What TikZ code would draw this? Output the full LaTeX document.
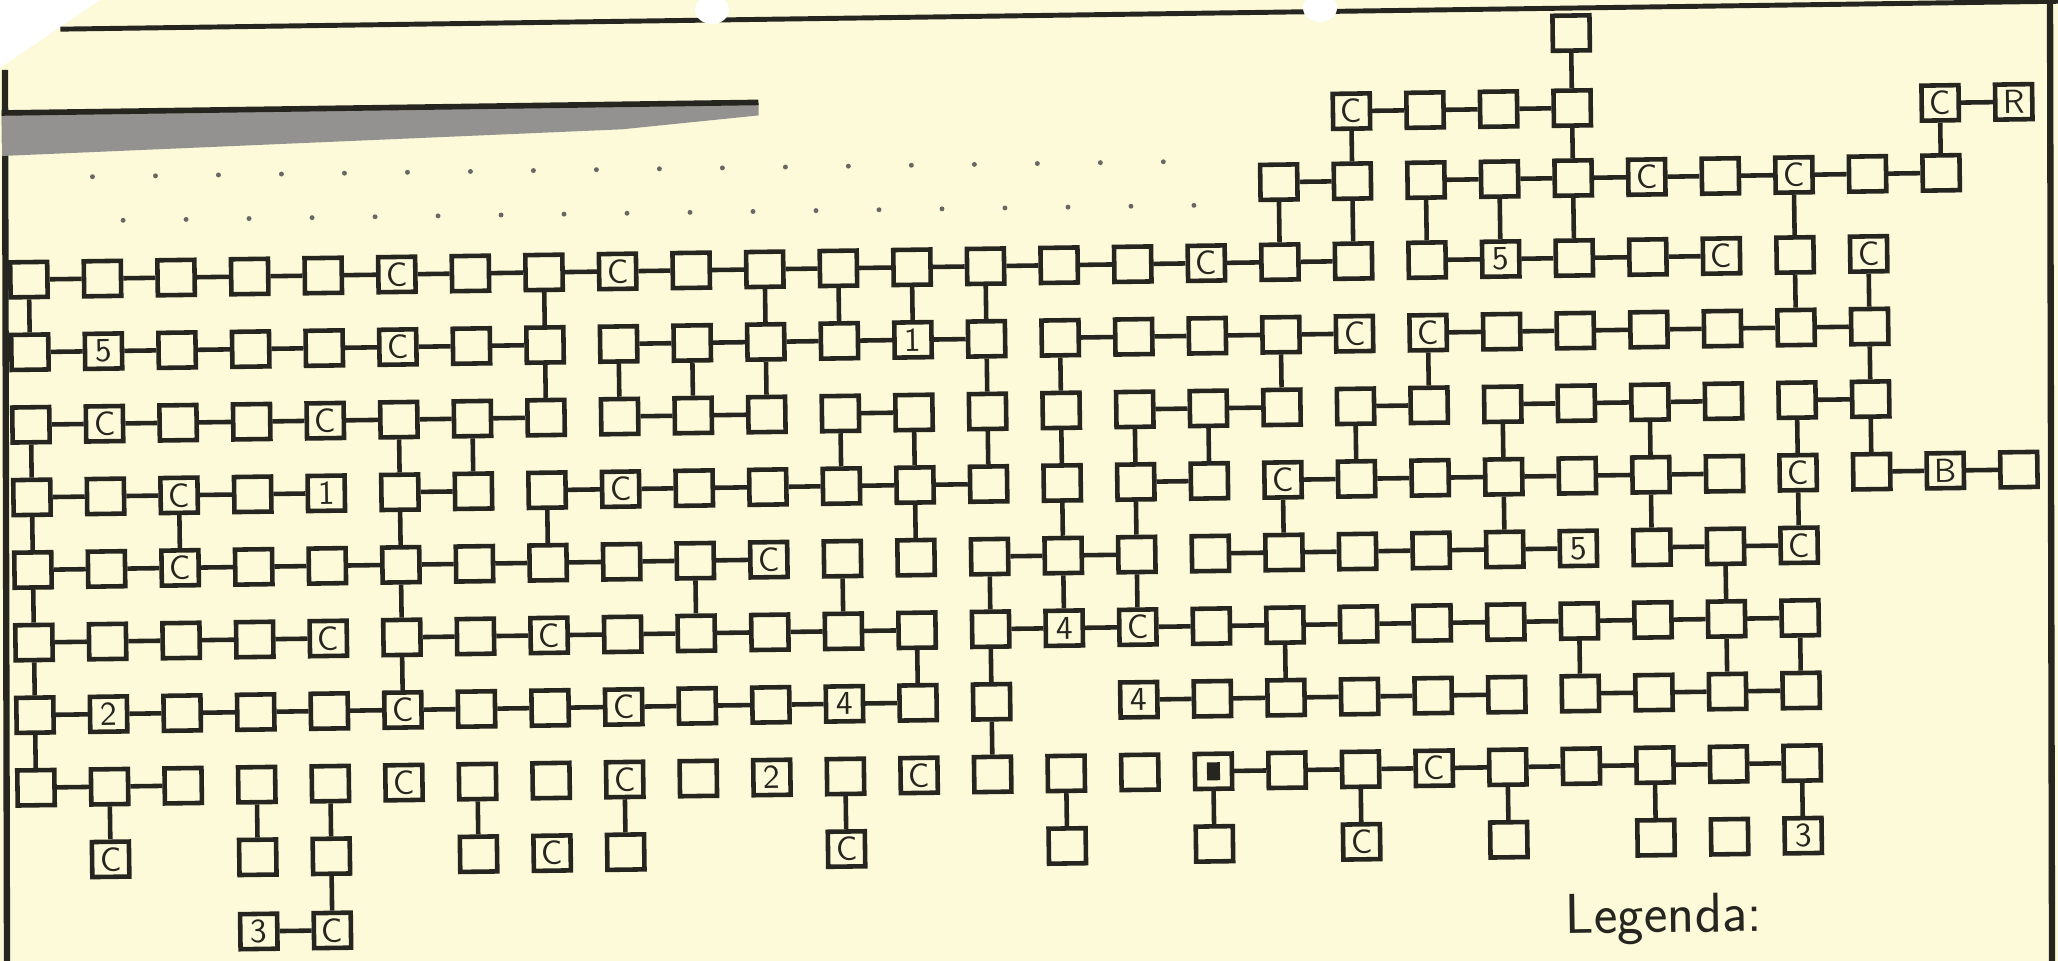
\documentclass[tikz,border=0pt]{standalone}
\usepackage{tikz}
\definecolor{paper}{RGB}{252,250,216}
\definecolor{ink}{RGB}{38,37,32}
\tikzset{
  cell/.style={draw=ink, line width=1.3pt, minimum width=0.37cm, minimum height=0.35cm,
    inner sep=0pt, text=ink, font=\sffamily\fontsize{9.5}{9.5}\selectfont, transform shape},
  link/.style={draw=ink, line width=1.3pt}
}
\newcommand{\kset}[3]{\expandafter\def\csname kl#1-#2\endcsname{#3}}
\newcommand{\kbox}[2]{%
  \pgfmathsetmacro\kx{25+73.6*#2}%
  \pgfmathsetmacro\ky{{55,130,200,280,352.6,425.2,497.8,570.4,643,715.6,788.2,860.8,935}[#1]}%
  \node[cell] (k#1-#2) at (\kx,\ky) {\csname kl#1-#2\endcsname};}
\newcommand{\krow}[3]{\foreach \kc in {#2,...,#3}{\kbox{#1}{\kc}}}
\newcommand{\khl}[3]{%
  \pgfmathtruncatemacro\kend{#3-1}%
  \foreach \kc in {#2,...,\kend}{%
    \pgfmathtruncatemacro\kn{\kc+1}%
    \draw[link] (k#1-\kc) -- (k#1-\kn);}}
\newcommand{\kvl}[2]{%
  \foreach \kr in {#2}{%
    \pgfmathtruncatemacro\kn{\kr+1}%
    \draw[link] (k\kr-#1) -- (k\kn-#1);}}

\begin{document}
\begin{tikzpicture}[x=0.01cm,y=-0.01cm]
  \useasboundingbox (0,0) rectangle (2058,961);
  \fill[paper] (0,0) rectangle (2058,961);
  \fill[white] (0,0) -- (100,0) -- (0,68) -- cycle;
  \draw[ink, line width=1.8pt] (5,70) -- (7,961);
  \draw[ink, line width=1.8pt] (2050,0) -- (2052,961);

  \begin{scope}[rotate=0.8]
  % sheet header
  \draw[ink, line width=1.4pt] (60,30) -- (2080,30);
  \fill[ink!50] (0,113) -- (757,113) -- (757,126) -- (620,138) -- (0,156) -- cycle;
  \draw[ink, line width=1.6pt] (0,113) -- (757,113);
  \foreach \kx in {0,...,17}{
    \fill[ink!70] (90+63*\kx,178) circle (0.7pt);
    \fill[ink!70] (120+63*\kx,222) circle (0.7pt);}

  % labels
  \kset{1}{18}{C} \kset{1}{26}{C} \kset{1}{27}{R}
  \kset{2}{22}{C} \kset{2}{24}{C}
  \kset{3}{5}{C} \kset{3}{8}{C} \kset{3}{16}{C} \kset{3}{20}{5} \kset{3}{23}{C} \kset{3}{25}{C}
  \kset{4}{1}{5} \kset{4}{5}{C} \kset{4}{12}{1} \kset{4}{18}{C} \kset{4}{19}{C}
  \kset{5}{1}{C} \kset{5}{4}{C}
  \kset{6}{2}{C} \kset{6}{4}{1} \kset{6}{8}{C} \kset{6}{17}{C} \kset{6}{24}{C} \kset{6}{26}{B}
  \kset{7}{2}{C} \kset{7}{10}{C} \kset{7}{21}{5} \kset{7}{24}{C}
  \kset{8}{4}{C} \kset{8}{7}{C} \kset{8}{14}{4} \kset{8}{15}{C}
  \kset{9}{1}{2} \kset{9}{5}{C} \kset{9}{8}{C} \kset{9}{11}{4} \kset{9}{15}{4}
  \foreach \kc in {16,...,20}{\kset{8}{\kc}{L}\kset{9}{\kc}{L}}
  \kset{10}{5}{C} \kset{10}{8}{C} \kset{10}{10}{2} \kset{10}{12}{C} \kset{10}{19}{C}
  \kset{10}{16}{\rule{1.3mm}{1.8mm}}
  \kset{11}{1}{C} \kset{11}{7}{C} \kset{11}{11}{C} \kset{11}{18}{C} \kset{11}{24}{3}
  \kset{12}{3}{3} \kset{12}{4}{C}

  % boxes
  \kbox{0}{21}
  \krow{1}{18}{21} \kbox{1}{26} \kbox{1}{27}
  \krow{2}{17}{26}
  \krow{3}{0}{25}
  \krow{4}{0}{25}
  \krow{5}{0}{25}
  \krow{6}{0}{27}
  \krow{7}{0}{24}
  \krow{8}{0}{24}
  \krow{9}{0}{13} \krow{9}{15}{24}
  \krow{10}{0}{24}
  \foreach \kc in {1,3,4,6,7,8,11,14,16,18,20,22,23,24}{\kbox{11}{\kc}}
  \krow{12}{3}{4}

  % rows
  \khl{1}{18}{21} \khl{1}{26}{27}
  \khl{2}{17}{18} \khl{2}{19}{26}
  \khl{3}{0}{18} \khl{3}{19}{23}
  \khl{4}{0}{7} \khl{4}{8}{13} \khl{4}{14}{18} \khl{4}{19}{25}
  \khl{5}{0}{7} \khl{5}{8}{10} \khl{5}{11}{12} \khl{5}{15}{17} \khl{5}{18}{19}
  \khl{5}{20}{23} \khl{5}{24}{25}
  \khl{6}{0}{4} \khl{6}{5}{6} \khl{6}{7}{13} \khl{6}{15}{16} \khl{6}{17}{23} \khl{6}{25}{27}
  \khl{7}{0}{10} \khl{7}{13}{15} \khl{7}{16}{21} \khl{7}{22}{24}
  \khl{8}{0}{4} \khl{8}{5}{12} \khl{8}{13}{24}
  \khl{9}{0}{12} \khl{9}{15}{20} \khl{9}{21}{24}
  \khl{10}{0}{2} \khl{10}{16}{24}
  \khl{12}{3}{4}

  % columns
  \kvl{0}{3,5,6,7,8,9}
  \kvl{1}{10}
  \kvl{2}{6}
  \kvl{3}{10}
  \kvl{4}{10,11}
  \kvl{5}{5,6,7,8}
  \kvl{6}{5,10}
  \kvl{7}{3,4,6}
  \kvl{8}{4,10}
  \kvl{9}{4,7}
  \kvl{10}{3,4}
  \kvl{11}{3,5,7,10}
  \kvl{12}{3,5,6,8}
  \kvl{13}{3,4,5,7,8,9}
  \kvl{14}{4,5,6,7,10}
  \kvl{15}{5,6,7}
  \kvl{16}{5,10}
  \kvl{17}{2,4,6,8}
  \kvl{18}{1,2,5,10}
  \kvl{19}{2,4}
  \kvl{20}{2,5,6,10}
  \kvl{21}{0,1,2,8}
  \kvl{22}{5,6,10}
  \kvl{23}{7,8}
  \kvl{24}{2,3,5,6,8,10}
  \kvl{25}{3,4,5}
  \kvl{26}{1}

  \node[text=ink, font=\sffamily\fontsize{16}{16}\selectfont, transform shape] (legend)
    at (1651,942) {Legenda:};
  \end{scope}

  % punch holes
  \fill[white] (712,10) ellipse (17 and 14);
  \fill[white] (1320,8) ellipse (17 and 14);
\end{tikzpicture}
\end{document}
